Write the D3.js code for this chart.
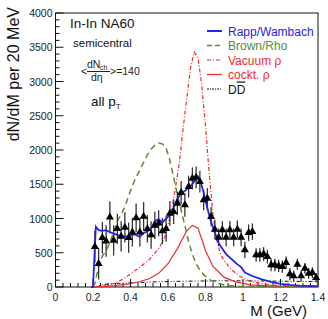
<!DOCTYPE html>
<html lang="en">
<head>
<meta charset="UTF-8">
<title>NA60 In-In dimuon excess</title>
<script src="https://d3js.org/d3.v7.min.js"></script>
<style>
  body { margin: 0; background: #fff; }
  svg { display: block; font-family: "Liberation Sans", Arial, sans-serif; }
  .tick-label { font-size: 10.5px; fill: #222; }
  .curve { fill: none; }
</style>
</head>
<body>
<svg width="328" height="319"></svg>
<script>
// ---- data ----
const dataMass = [0.21,0.23,0.25,0.27,0.29,0.31,0.33,0.35,0.37,0.39,0.41,0.43,0.45,0.47,0.49,0.51,0.53,0.55,0.57,0.59,
  0.61,0.63,0.65,0.67,0.69,0.71,0.73,0.75,0.77,0.79,0.81,0.83,0.85,0.87,0.89,0.91,0.93,0.95,0.97,0.99,
  1.01,1.03,1.05,1.07,1.09,1.11,1.13,1.15,1.17,1.19,1.21,1.23,1.25,1.27,1.29,1.31,1.33,1.35,1.37,1.39];
const dataYield = [590,340,720,670,1020,680,850,740,870,720,800,1010,800,1030,850,760,900,930,817,850,
  1075,1100,1220,1377,1197,1465,1586,1600,1538,1270,1294,1027,842,725,832,725,832,725,842,725,
  540,793,808,467,467,482,443,321,321,307,297,355,189,160,331,160,272,199,209,136];
const dataErr = [230,230,230,230,230,220,220,220,220,220,210,210,210,210,200,200,200,190,190,190,
  180,180,170,170,170,160,160,160,160,150,150,140,140,130,130,130,130,130,130,130,
  120,120,120,100,100,100,100,90,90,90,90,90,90,80,80,80,80,80,80,70];

const rappMass = [0.19,0.2,0.215,0.23,0.25,0.27,0.29,0.31,0.33,0.35,0.37,0.39,0.41,0.43,0.45,0.47,0.49,0.51,0.53,0.55,0.57,0.59,0.61,0.63,0.65,0.67,0.69,0.71,0.73,0.75,0.76,0.77,0.79,0.81,0.83,0.85,0.87,0.89,0.91,0.93,0.95,0.97,0.99,1.01,1.05,1.1,1.15,1.2,1.25,1.3,1.35,1.4];
const rappYield = [0,0,880,830,820,830,800,780,760,740,740,735,770,760,730,790,810,850,960,990,940,1000,1050,1160,1290,1370,1400,1450,1500,1580,1610,1570,1380,1150,950,790,640,560,480,430,380,330,290,210,160,110,75,45,30,20,15,12];

const brownMass = [0.2,0.21,0.23,0.25,0.27,0.29,0.31,0.33,0.35,0.37,0.39,0.41,0.43,0.45,0.47,0.49,0.51,0.53,0.55,0.57,0.59,0.61,0.63,0.65,0.67,0.69,0.71,0.73,0.75,0.77,0.79,0.81,0.84,0.87,0.9,0.95,1.0,1.1,1.2,1.3,1.4];
const brownYield = [0,50,300,450,530,650,800,960,1060,1170,1330,1480,1600,1710,1820,1930,2010,2070,2100,2090,2030,1850,1600,1350,1120,900,660,480,340,250,180,130,80,50,30,15,8,5,3,2,1];

const vacMass = [0.2,0.25,0.3,0.35,0.4,0.45,0.5,0.55,0.58,0.6,0.62,0.64,0.66,0.68,0.7,0.72,0.74,0.76,0.78,0.8,0.82,0.84,0.86,0.88,0.9,0.94,0.98,1.04,1.15,1.3,1.4];
const vacYield = [0,10,40,100,190,290,400,560,700,900,1150,1450,1800,2300,2750,3200,3430,3350,2950,2350,1650,1050,680,480,380,250,160,80,30,10,5];

const cockMass = [0.2,0.25,0.3,0.35,0.4,0.45,0.5,0.55,0.6,0.65,0.7,0.73,0.76,0.78,0.8,0.84,0.9,0.96,1.04,1.2,1.4];
const cockYield = [0,5,15,30,50,80,120,200,340,560,820,900,860,700,530,300,140,75,30,10,5];

const ddMass = [0.2,0.22,0.25,0.3,0.35,0.4,0.5,0.6,0.7,0.8,0.9,1.0,1.1,1.2,1.3,1.4];
const ddYield = [0,10,35,48,55,62,72,80,85,88,90,90,88,85,82,80];

const xTicks = [0,0.2,0.4,0.6,0.8,1,1.2,1.4];
const yTicks = [0,500,1000,1500,2000,2500,3000,3500,4000];

// ---- layout ----
const svg = d3.select("svg");
const padL = 55.5, padR = 318, padT = 13, padB = 287;
const x = d3.scaleLinear().domain([0, 1.4]).range([padL, padR]);
const y = d3.scaleLinear().domain([0, 4000]).range([padB, padT]);

const blue = "#2424e6", green = "#5a8c32", red = "#ee2a2a";

// frame
svg.append("rect")
  .attr("x", padL).attr("y", padT)
  .attr("width", padR - padL).attr("height", padB - padT)
  .attr("fill", "none").attr("stroke", "#111").attr("stroke-width", 1);

// ticks (inside, ROOT style)
const g = svg.append("g");
d3.range(0, 1.4001, 0.04).forEach(v => {
  const major = Math.abs(v / 0.2 - Math.round(v / 0.2)) < 1e-6;
  g.append("line").attr("x1", x(v)).attr("x2", x(v))
    .attr("y1", padB).attr("y2", padB - (major ? 8 : 4))
    .attr("stroke", "#111");
});
d3.range(0, 4001, 100).forEach(v => {
  const major = v % 500 === 0;
  g.append("line").attr("y1", y(v)).attr("y2", y(v))
    .attr("x1", padL).attr("x2", padL + (major ? 8 : 4))
    .attr("stroke", "#111");
});
xTicks.forEach(v => {
  g.append("text").attr("class", "tick-label")
    .attr("x", x(v)).attr("y", padB + 14)
    .attr("text-anchor", "middle").text(v);
});
yTicks.forEach(v => {
  g.append("text").attr("class", "tick-label")
    .attr("x", padL - 3).attr("y", y(v) + 4)
    .attr("text-anchor", "end").text(v);
});

// axis titles
svg.append("text").attr("x", 307).attr("y", 316)
  .attr("text-anchor", "end").attr("font-size", 15).attr("fill", "#111")
  .text("M (GeV)");
svg.append("text")
  .attr("transform", "translate(18.5,7) rotate(-90)")
  .attr("text-anchor", "end").attr("font-size", 16).attr("fill", "#111")
  .text("dN/dM per 20 MeV");

// curves
const line = d3.line().x(d => x(d[0])).y(d => y(d[1]));
const pairs = (ms, vs) => ms.map((m, i) => [m, vs[i]]);

svg.append("path").attr("class", "curve")
  .attr("d", line(pairs(ddMass, ddYield)))
  .attr("stroke", "#111").attr("stroke-width", 1).attr("stroke-dasharray", "4,2,1,2,1,2");
svg.append("path").attr("class", "curve")
  .attr("d", line(pairs(cockMass, cockYield)))
  .attr("stroke", red).attr("stroke-width", 1.2);
svg.append("path").attr("class", "curve")
  .attr("d", line(pairs(vacMass, vacYield)))
  .attr("stroke", red).attr("stroke-width", 1.2).attr("stroke-dasharray", "4,2,1,2");
svg.append("path").attr("class", "curve")
  .attr("d", line(pairs(brownMass, brownYield)))
  .attr("stroke", green).attr("stroke-width", 1.5).attr("stroke-dasharray", "6,4");

// data points with errors
const pts = svg.append("g");
dataMass.forEach((m, i) => {
  pts.append("line")
    .attr("x1", x(m)).attr("x2", x(m))
    .attr("y1", y(dataYield[i] - dataErr[i])).attr("y2", y(dataYield[i] + dataErr[i]))
    .attr("stroke", "#333").attr("stroke-width", 1.3);
});

svg.append("path").attr("class", "curve")
  .attr("d", line(pairs(rappMass, rappYield)))
  .attr("stroke", blue).attr("stroke-width", 1.8);

const tri = d3.symbol().type(d3.symbolTriangle).size(28);
const triG = svg.append("g");
dataMass.forEach((m, i) => {
  triG.append("path").attr("d", tri)
    .attr("transform", `translate(${x(m)},${y(dataYield[i])})`)
    .attr("fill", "#000");
});

// annotations
svg.append("text").attr("x", 70).attr("y", 28).attr("font-size", 13.5).attr("fill", "#111").text("In-In NA60");
svg.append("text").attr("x", 73).attr("y", 47).attr("font-size", 11.5).attr("fill", "#111").text("semicentral");
const fr = svg.append("g").attr("fill", "#222").attr("font-size", 10.5);
fr.append("text").attr("x", 81).attr("y", 75).text("<");
fr.append("text").attr("x", 87).attr("y", 68).text("dN");
fr.append("text").attr("x", 100).attr("y", 70).attr("font-size", 7).text("ch");
fr.append("line").attr("x1", 87).attr("x2", 110).attr("y1", 71.5).attr("y2", 71.5).attr("stroke", "#222");
fr.append("text").attr("x", 91).attr("y", 81).text("dη");
fr.append("text").attr("x", 110).attr("y", 75).text(">=140");
const allpt = svg.append("text").attr("x", 91).attr("y", 106).attr("font-size", 13.5).attr("fill", "#111");
allpt.append("tspan").text("all p");
allpt.append("tspan").attr("font-size", 8).attr("dy", 3).text("T");

// legend
const legendItems = [
  { label: "Rapp/Wambach", color: blue, dash: null, width: 2 },
  { label: "Brown/Rho", color: green, dash: "5,3", width: 1.5 },
  { label: "Vacuum ρ", color: red, dash: "4,2,1,2", width: 1.2 },
  { label: "cockt. ρ", color: red, dash: null, width: 1.2 },
  { label: "DD", color: "#111", dash: "2,1,1,1", width: 1 }
];
const legendY = [31, 45.5, 60, 74.5, 89];
legendItems.forEach((d, i) => {
  svg.append("line").attr("x1", 207).attr("x2", 222)
    .attr("y1", legendY[i]).attr("y2", legendY[i])
    .attr("stroke", d.color).attr("stroke-width", d.width)
    .attr("stroke-dasharray", d.dash);
  const t = svg.append("text").attr("x", 228).attr("y", legendY[i] + 4.5)
    .attr("font-size", 12).attr("fill", d.color);
  if (d.label === "DD") {
    t.append("tspan").text("D");
    t.append("tspan").style("text-decoration", "overline").text("D");
  } else {
    t.text(d.label);
  }
});
</script>
</body>
</html>
